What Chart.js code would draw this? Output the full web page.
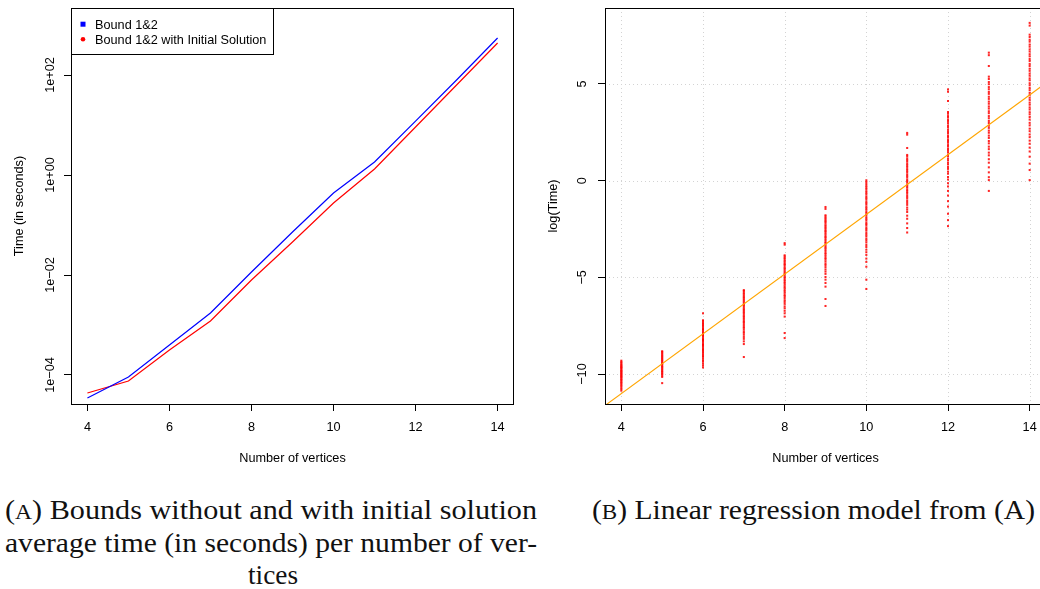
<!DOCTYPE html>
<html><head><meta charset="utf-8">
<script src="https://cdn.jsdelivr.net/npm/chart.js@4.4.1/dist/chart.umd.min.js"></script>
<style>
html,body{margin:0;padding:0;background:#fff;width:1040px;height:589px;overflow:hidden;}
#wrap{position:relative;width:1040px;height:589px;overflow:hidden;background:#fff;}
#cA{position:absolute;left:0;top:0;}
#cB{position:absolute;left:540px;top:0;}
.cap{position:absolute;font-family:"Liberation Serif";font-size:27px;line-height:25px;color:#111;white-space:nowrap;transform-origin:0 0;}
.sc{font-size:0.78em;}
</style></head><body>
<div id="wrap">
<canvas id="cA" width="540" height="470"></canvas>
<canvas id="cB" width="520" height="470"></canvas>
<div class="cap" id="capA1" data-left="5" data-w="532">(<span class="sc">A</span>) Bounds without and with initial solution</div>
<div class="cap" id="capA2" data-left="5" data-w="532">average time (in seconds) per number of ver-</div>
<div class="cap" id="capA3" data-center="273" data-w="50">tices</div>
<div class="cap" id="capB1" data-left="592" data-w="443">(<span class="sc">B</span>) Linear regression model from (A)</div>
</div>
<script>
// ---------- data ----------
const vertices = [4, 5, 6, 7, 8, 9, 10, 11, 12, 13, 14];
const timeBound12 = [3.47e-5, 9.1e-5, 3.98e-4, 1.74e-3, 1.15e-2, 7.24e-2, 0.437, 1.82, 12.0, 79.4, 550];
const timeBound12Init = [4.37e-5, 7.59e-5, 3.16e-4, 1.20e-3, 7.94e-3, 4.57e-2, 0.275, 1.32, 9.12, 63.1, 437];
const xTicks = [4, 6, 8, 10, 12, 14];
const yTicksA = [1e-4, 1e-2, 1, 1e2];
const yTickLabelsA = ['1e\u221204', '1e\u221202', '1e+00', '1e+02'];
const yTicksB = [-10, -5, 0, 5];
const yTickLabelsB = ['\u221210', '\u22125', '0', '5'];
const legendLabels = ['Bound 1&2', 'Bound 1&2 with Initial Solution'];

const lt4 = [-9.31,-9.37,-9.43,-9.5,-9.54,-9.6,-9.63,-9.68,-9.72,-9.78,-9.83,-9.86,-9.91,-9.96,-9.99,-10.05,-10.09,-10.14,-10.17,-10.23,-10.28,-10.32,-10.39,-10.44,-10.49,-10.56,-10.63,-10.7,-10.78,-10.86];
const lt5 = [-8.82,-8.86,-8.93,-8.98,-9.05,-9.09,-9.16,-9.2,-9.27,-9.31,-9.38,-9.44,-9.48,-9.55,-9.61,-9.65,-9.72,-9.77,-9.84,-9.89,-9.96,-10.01,-10.08,-10.15,-10.47];
const lt6 = [-6.86,-7.22,-7.27,-7.35,-7.4,-7.47,-7.53,-7.6,-7.67,-7.72,-7.8,-7.86,-7.91,-7.98,-8.04,-8.11,-8.19,-8.24,-8.3,-8.37,-8.45,-8.5,-8.56,-8.63,-8.71,-8.77,-8.83,-8.9,-8.98,-9.05,-9.11,-9.2,-9.29,-9.36,-9.46,-9.56,-9.66];
const lt7 = [-5.66,-5.71,-5.79,-5.85,-5.93,-6.0,-6.06,-6.14,-6.2,-6.28,-6.36,-6.42,-6.49,-6.57,-6.65,-6.71,-6.78,-6.85,-6.93,-7.01,-7.07,-7.15,-7.24,-7.3,-7.37,-7.46,-7.55,-7.61,-7.7,-7.8,-7.87,-7.97,-8.08,-8.18,-8.31,-8.45,-9.12];
const lt8 = [-3.23,-3.31,-3.86,-3.92,-4.0,-4.07,-4.15,-4.23,-4.3,-4.36,-4.45,-4.53,-4.59,-4.68,-4.76,-4.82,-4.9,-4.99,-5.05,-5.14,-5.22,-5.29,-5.38,-5.47,-5.54,-5.63,-5.71,-5.8,-5.9,-5.97,-6.07,-6.18,-6.27,-6.37,-6.5,-6.6,-6.73,-6.86,-7.03,-7.88,-8.14];
const lt9 = [-1.36,-1.46,-1.79,-1.85,-1.93,-2.01,-2.07,-2.14,-2.22,-2.31,-2.37,-2.45,-2.53,-2.6,-2.67,-2.75,-2.84,-2.91,-2.98,-3.07,-3.16,-3.22,-3.31,-3.4,-3.47,-3.55,-3.64,-3.74,-3.81,-3.9,-4.0,-4.07,-4.17,-4.28,-4.36,-4.47,-4.59,-4.7,-4.82,-4.98,-5.12,-5.29,-5.48,-6.12,-6.48];
const lt10 = [0.02,-0.07,-0.17,-0.27,-0.35,-0.43,-0.54,-0.62,-0.7,-0.81,-0.89,-0.97,-1.08,-1.16,-1.24,-1.35,-1.43,-1.51,-1.62,-1.7,-1.78,-1.89,-1.97,-2.05,-2.16,-2.24,-2.32,-2.43,-2.51,-2.59,-2.71,-2.8,-2.89,-3.01,-3.1,-3.2,-3.33,-3.43,-3.57,-3.7,-3.84,-4.03,-4.2,-4.45,-5.12,-5.6];
const lt11 = [2.47,2.38,1.69,1.33,1.25,1.14,1.06,0.98,0.87,0.79,0.71,0.6,0.52,0.44,0.33,0.25,0.17,0.06,-0.02,-0.1,-0.21,-0.29,-0.37,-0.48,-0.56,-0.64,-0.75,-0.84,-0.93,-1.05,-1.15,-1.25,-1.39,-1.5,-1.62,-1.81,-1.97,-2.21,-2.45,-2.68];
const lt12 = [4.72,4.6,4.12,3.55,3.46,3.34,3.26,3.14,3.05,2.96,2.84,2.76,2.64,2.55,2.46,2.34,2.26,2.14,2.05,1.96,1.84,1.76,1.64,1.55,1.46,1.34,1.26,1.14,1.05,0.93,0.84,0.71,0.61,0.47,0.36,0.19,0.06,-0.13,-0.3,-0.53,-0.77,-1.06,-1.34,-1.71,-2.04,-2.35];
const lt13 = [6.62,6.49,5.93,5.38,5.26,5.1,4.99,4.84,4.73,4.59,4.49,4.34,4.23,4.09,3.98,3.84,3.73,3.59,3.49,3.34,3.23,3.09,2.98,2.84,2.73,2.59,2.48,2.33,2.21,2.05,1.93,1.76,1.63,1.45,1.31,1.11,0.93,0.69,0.43,0.18,0.03,-0.53];
const lt14 = [8.16,8.02,7.55,7.43,7.29,7.19,7.04,6.93,6.79,6.68,6.54,6.43,6.29,6.19,6.04,5.93,5.79,5.68,5.54,5.43,5.29,5.19,5.04,4.93,4.79,4.68,4.54,4.43,4.29,4.18,4.04,3.93,3.79,3.68,3.54,3.43,3.29,3.16,2.99,2.86,2.69,2.56,2.39,2.25,2.07,1.91,1.71,1.51,1.24,0.88,0.55,0.03];
const logTimeColumns = [lt4, lt5, lt6, lt7, lt8, lt9, lt10, lt11, lt12, lt13, lt14];
// fitted regression line, end points read at the axis limits
const regX = [3.6, 14.4];
const regY = [-11.63, 5.05];
// axis limits
const xLim = [3.6, 14.4];
const yLimA = [2.63e-5, 2190];
const yLimB = [-11.55, 8.93];

// ---------- helpers ----------
const FONT = '"Liberation Sans", Arial, sans-serif';
const FS = 12.7;
const F = FS + 'px ' + FONT;

function frame(ctx, ca) {
  ctx.save();
  ctx.strokeStyle = '#000'; ctx.lineWidth = 1;
  const l = Math.round(ca.left), t = Math.round(ca.top), r = Math.round(ca.right), b = Math.round(ca.bottom);
  ctx.strokeRect(l + 0.5, t + 0.5, r - l - 1, b - t);
  ctx.restore();
}
function yLabels(ctx, scale, ticks, labels, bx) {
  ctx.save();
  ctx.font = F; ctx.fillStyle = '#000'; ctx.textAlign = 'center'; ctx.textBaseline = 'alphabetic';
  ticks.forEach((v, i) => {
    const y = scale.getPixelForValue(v);
    ctx.save(); ctx.translate(bx, y); ctx.rotate(-Math.PI / 2); ctx.fillText(labels[i], 0, 0); ctx.restore();
  });
  ctx.restore();
}
function titles(ctx, ca, xt, yt, ybx) {
  ctx.save();
  ctx.font = F; ctx.fillStyle = '#000'; ctx.textAlign = 'center'; ctx.textBaseline = 'alphabetic';
  ctx.fillText(xt, (ca.left + ca.right) / 2, 462);
  ctx.translate(ybx, (ca.top + ca.bottom) / 2); ctx.rotate(-Math.PI / 2);
  ctx.fillText(yt, 0, 0);
  ctx.restore();
}
function xScale() {
  return {
    type: 'linear', min: xLim[0], max: xLim[1],
    afterBuildTicks: s => { s.ticks = xTicks.map(v => ({ value: v })); },
    ticks: { font: { family: FONT, size: FS }, color: '#000', padding: 9, maxRotation: 0, autoSkip: false, callback: v => String(v) },
    grid: { drawOnChartArea: false, drawTicks: true, tickLength: 7, tickColor: '#000', tickWidth: 1 },
    border: { display: false },
    afterFit: s => { s.height = 66; }
  };
}

// ---------- chart A ----------
const pluginA = {
  id: 'pa',
  afterDraw(chart) {
    const ctx = chart.ctx, ca = chart.chartArea;
    frame(ctx, ca);
    yLabels(ctx, chart.scales.y, yTicksA, yTickLabelsA, 54);
    titles(ctx, ca, 'Number of vertices', 'Time (in seconds)', 23);
    // legend
    ctx.save();
    ctx.fillStyle = '#fff';
    ctx.fillRect(71.5, 8.5, 202, 46);
    ctx.strokeStyle = '#000'; ctx.lineWidth = 1;
    ctx.strokeRect(71.5, 8.5, 202, 46);
    ctx.fillStyle = '#0000ff'; ctx.fillRect(80.5, 21.7, 5, 5);
    ctx.fillStyle = '#ff0000'; ctx.beginPath(); ctx.arc(83, 39.3, 2.3, 0, Math.PI * 2); ctx.fill();
    ctx.fillStyle = '#000'; ctx.font = F; ctx.textAlign = 'left'; ctx.textBaseline = 'alphabetic';
    ctx.fillText(legendLabels[0], 95, 28.5);
    ctx.fillText(legendLabels[1], 95, 44);
    ctx.restore();
  }
};
new Chart(document.getElementById('cA'), {
  type: 'line',
  data: {
    datasets: [
      { label: legendLabels[0], data: vertices.map((v, i) => ({ x: v, y: timeBound12[i] })), borderColor: '#0000ff', borderWidth: 1.2, pointRadius: 0, tension: 0, fill: false },
      { label: legendLabels[1], data: vertices.map((v, i) => ({ x: v, y: timeBound12Init[i] })), borderColor: '#ff0000', borderWidth: 1.2, pointRadius: 0, tension: 0, fill: false }
    ]
  },
  options: {
    responsive: false, animation: false, events: [],
    layout: { padding: { left: 0, right: 26, top: 8, bottom: 0 } },
    plugins: { legend: { display: false }, tooltip: { enabled: false }, title: { display: false } },
    scales: {
      x: xScale(),
      y: {
        type: 'logarithmic', min: yLimA[0], max: yLimA[1],
        afterBuildTicks: s => { s.ticks = yTicksA.map(v => ({ value: v })); },
        ticks: { display: false },
        grid: { drawOnChartArea: false, drawTicks: true, tickLength: 7, tickColor: '#000', tickWidth: 1 },
        border: { display: false },
        afterFit: s => { s.width = 71; }
      }
    }
  },
  plugins: [pluginA]
});

// ---------- chart B ----------
const scatterPts = [];
logTimeColumns.forEach((col, i) => col.forEach(v => scatterPts.push({ x: vertices[i], y: v })));
const pluginB = {
  id: 'pb',
  beforeDatasetsDraw(chart) {
    const ctx = chart.ctx, ca = chart.chartArea, sx = chart.scales.x, sy = chart.scales.y;
    ctx.save();
    ctx.strokeStyle = '#d3d3d3'; ctx.lineWidth = 1; ctx.setLineDash([1, 3]);
    xTicks.forEach(v => { const x = Math.round(sx.getPixelForValue(v)) + 0.5; ctx.beginPath(); ctx.moveTo(x, ca.top); ctx.lineTo(x, ca.bottom); ctx.stroke(); });
    yTicksB.forEach(v => { const y = Math.round(sy.getPixelForValue(v)) + 0.5; ctx.beginPath(); ctx.moveTo(ca.left, y); ctx.lineTo(ca.right, y); ctx.stroke(); });
    ctx.restore();
  },
  afterDraw(chart) {
    const ctx = chart.ctx, ca = chart.chartArea;
    frame(ctx, ca);
    yLabels(ctx, chart.scales.y, yTicksB, yTickLabelsB, 46);
    titles(ctx, ca, 'Number of vertices', 'log(Time)', 17);
  }
};
new Chart(document.getElementById('cB'), {
  type: 'scatter',
  data: {
    datasets: [
      { type: 'line', label: 'fit', data: regX.map((x, i) => ({ x: x, y: regY[i] })), borderColor: '#ffa500', borderWidth: 1.1, pointRadius: 0, tension: 0, fill: false },
      { type: 'scatter', label: 'log(Time)', data: scatterPts, pointStyle: 'rect', pointRadius: 1.45, borderWidth: 0, backgroundColor: 'rgba(255,0,0,0.85)', borderColor: 'rgba(255,0,0,0)' }
    ]
  },
  options: {
    responsive: false, animation: false, events: [],
    layout: { padding: { left: 0, right: 14, top: 8, bottom: 0 } },
    plugins: { legend: { display: false }, tooltip: { enabled: false }, title: { display: false } },
    scales: {
      x: xScale(),
      y: {
        type: 'linear', min: yLimB[0], max: yLimB[1],
        afterBuildTicks: s => { s.ticks = yTicksB.map(v => ({ value: v })); },
        ticks: { display: false },
        grid: { drawOnChartArea: false, drawTicks: true, tickLength: 7, tickColor: '#000', tickWidth: 1 },
        border: { display: false },
        afterFit: s => { s.width = 65; }
      }
    }
  },
  plugins: [pluginB]
});

// ---------- captions ----------
const capTops = { capA1: 498, capA2: 531, capA3: 563, capB1: 498 };
document.querySelectorAll('.cap').forEach(el => {
  el.style.top = capTops[el.id] + 'px';
  const w = el.getBoundingClientRect().width;
  const target = parseFloat(el.dataset.w);
  const s = target / w;
  el.style.transform = 'scaleX(' + s + ')';
  if (el.dataset.left) el.style.left = el.dataset.left + 'px';
  else el.style.left = (parseFloat(el.dataset.center) - target / 2) + 'px';
});
</script>
</body></html>
